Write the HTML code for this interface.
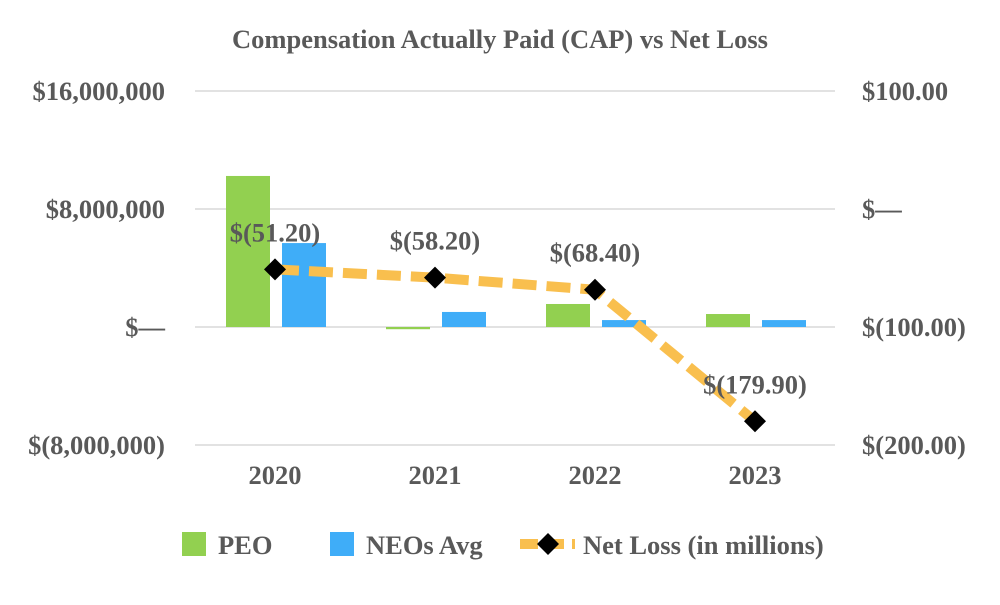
<!DOCTYPE html>
<html><head><meta charset="utf-8"><style>
body{margin:0;background:#fff;}
svg text{font-family:"Liberation Serif",serif;font-weight:bold;fill:#595959;}
</style></head><body>
<svg width="1000" height="600" viewBox="0 0 1000 600">
<text x="500" y="48" text-anchor="middle" font-size="26.5">Compensation Actually Paid (CAP) vs Net Loss</text>
<g id="grid"></g><g id="bars"></g><g id="line"></g><g id="axes"></g>
<g>
<rect x="182" y="532" width="24" height="24" fill="#92d050"/>
<text x="218" y="554" font-size="26.5">PEO</text>
<rect x="330" y="532" width="24" height="24" fill="#3fadf8"/>
<text x="366" y="554" font-size="26.5">NEOs Avg</text>
<line x1="520" y1="544" x2="575" y2="544" stroke="#f9bf4e" stroke-width="10" stroke-dasharray="18,8"/>
<path d="M548 533 L559 544 L548 555 L537 544 Z" fill="#000"/>
<text x="583" y="554" font-size="26.5">Net Loss (in millions)</text>
</g>
</svg>
<script>
const categories=["2020","2021","2022","2023"];
const peo=[10240000,-150000,1560000,880000];
const neo=[5690000,1020000,470000,470000];
const netLoss=[-51.2,-58.2,-68.4,-179.9];
const netLossLabels=["$(51.20)","$(58.20)","$(68.40)","$(179.90)"];
const leftTicks=[16000000,8000000,0,-8000000];
const leftTickLabels=["$16,000,000","$8,000,000","$—","$(8,000,000)"];
const rightTicks=[100,0,-100,-200];
const rightTickLabels=["$100.00","$—","$(100.00)","$(200.00)"];
const NS="http://www.w3.org/2000/svg";
const x0=195,x1=835,bw=(x1-x0)/categories.length;
const yL=v=>327-v/8000000*118;
const yR=v=>209-v*1.18;
const xC=i=>x0+bw*(i+0.5);
function mk(t,a,p){const e=document.createElementNS(NS,t);for(const k in a)e.setAttribute(k,a[k]);p.appendChild(e);return e;}
const g=document.getElementById('grid'),b=document.getElementById('bars'),l=document.getElementById('line'),ax=document.getElementById('axes');
leftTicks.forEach((v,i)=>{
 const ln=mk('line',{x1:x0,x2:x1,y1:yL(v),y2:yL(v),stroke:'#d9d9d9','stroke-width':1.5},g);
 
 
 const t=mk('text',{x:165,y:yL(v)+9,'text-anchor':'end','font-size':26.5},ax);t.textContent=leftTickLabels[i];
 
 
});
rightTicks.forEach((v,i)=>{
 const t=mk('text',{x:862,y:yR(v)+9,'font-size':26.5},ax);t.textContent=rightTickLabels[i];
 
 
});
categories.forEach((c,i)=>{
 const t=mk('text',{x:xC(i),y:484,'text-anchor':'middle','font-size':26.5},ax);t.textContent=c;
 
 
 const p=peo[i],n=neo[i];
 const r1=mk('rect',{x:xC(i)-49,y:Math.min(yL(p),yL(0)),width:44,height:Math.max(2,Math.abs(yL(p)-yL(0))),fill:'#92d050'},b);
 
 
 const r2=mk('rect',{x:xC(i)+7,y:Math.min(yL(n),yL(0)),width:44,height:Math.max(2,Math.abs(yL(n)-yL(0))),fill:'#3fadf8'},b);
 
 
});
const pl=mk('polyline',{points:netLoss.map((v,i)=>xC(i)+','+yR(v)).join(' '),fill:'none',stroke:'#f9bf4e','stroke-width':10,'stroke-dasharray':'24,10'},l);


netLoss.forEach((v,i)=>{
 const x=xC(i),y=yR(v);
 const d=mk('path',{d:`M${x} ${y-11} L${x+11} ${y} L${x} ${y+11} L${x-11} ${y} Z`,fill:'#000'},l);
 
 
 const t=mk('text',{x:x,y:y-28,'text-anchor':'middle','font-size':26.5},l);t.textContent=netLossLabels[i];
 
 
});
</script>
</body></html>
